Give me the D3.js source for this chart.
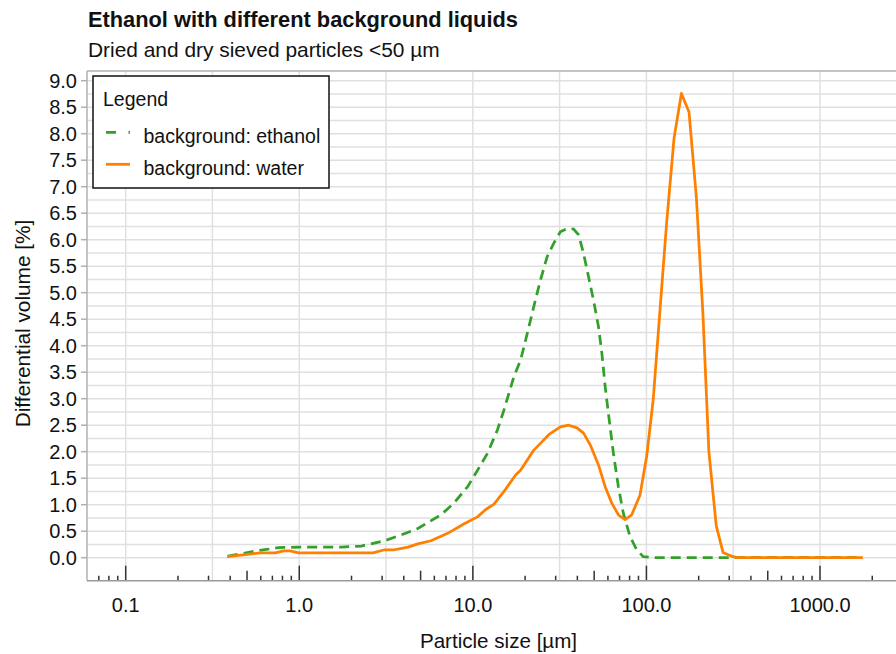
<!DOCTYPE html>
<html>
<head>
<meta charset="utf-8">
<script src="https://cdnjs.cloudflare.com/ajax/libs/d3/7.8.5/d3.min.js"></script>
<style>
  body { margin: 0; background: #fff; }
  svg { display: block; font-family: "Liberation Sans", Arial, sans-serif; }
</style>
</head>
<body>
<div id="chart"></div>
<script>
// particle size [µm] and differential volume [%]
var ethanolSize = [0.388, 0.571, 0.760, 1.0, 1.75, 2.28, 3.10, 3.87, 4.82, 6.56, 7.78, 9.33,
    10.64, 12.14, 13.85, 15.12, 17.25, 18.84, 20.58, 22.45, 24.53, 26.80, 29.24, 31.93,
    34.89, 38.07, 40.67, 43.43, 46.40, 49.56, 52.94, 55.37, 57.84, 60.41, 64.53, 68.93,
    73.62, 80.42, 87.87, 95.87, 109.6, 1764];
var ethanolVol = [0.03, 0.13, 0.19, 0.20, 0.20, 0.22, 0.32, 0.43, 0.55, 0.81, 1.03, 1.34,
    1.65, 1.97, 2.41, 2.79, 3.42, 3.73, 4.23, 4.74, 5.24, 5.68, 5.93, 6.15,
    6.21, 6.20, 6.09, 5.74, 5.30, 4.86, 4.36, 3.86, 3.23, 2.72, 1.97, 1.34,
    0.84, 0.40, 0.15, 0.02, 0.0, 0.0];

var waterSize = [0.384, 0.489, 0.596, 0.727, 0.812, 0.886, 0.989, 2.66, 3.10, 3.54, 4.23, 4.82,
    5.74, 7.16, 8.92, 10.64, 11.87, 13.24, 15.12, 17.64, 18.84, 21.50, 22.45, 25.08,
    27.37, 31.93, 35.64, 39.81, 43.43, 47.45, 52.94, 57.84, 63.18, 68.93, 75.30, 82.27,
    91.80, 100.3, 109.4, 119.5, 130.6, 144.3, 159.1, 175.9, 194.0, 211.6, 229.0, 252.6,
    276.3, 307.8, 334.5, 1764];
var waterVol = [0.02, 0.06, 0.09, 0.09, 0.13, 0.13, 0.09, 0.09, 0.15, 0.15, 0.20, 0.26,
    0.32, 0.46, 0.64, 0.77, 0.91, 1.01, 1.25, 1.56, 1.65, 1.94, 2.03, 2.19,
    2.32, 2.47, 2.50, 2.45, 2.35, 2.13, 1.75, 1.34, 1.03, 0.81, 0.72, 0.81,
    1.18, 1.91, 2.98, 4.64, 6.30, 7.92, 8.76, 8.41, 6.80, 4.60, 2.00, 0.60,
    0.10, 0.03, 0.0, 0.0];

var xMajor = [0.1, 1, 10, 100, 1000];
var xGrid = [0.1, 0.316, 1, 3.16, 10, 31.6, 100, 316, 1000];
var yTicks = d3.range(0, 9.01, 0.5);
var yGrid = d3.range(0, 9.01, 0.25);

var seriesNames = ["background: ethanol", "background: water"];
var seriesColors = ["#33a02c", "#ff7f00"];

var W = 896, H = 654;
// plot frame (note: "top" is reserved on window, so use pLeft/pTop...)
var pLeft = 87, pRight = 896, pTop = 71, pBottom = 580.7;

var svg = d3.select("#chart").append("svg")
    .attr("width", W).attr("height", H);

var x = d3.scaleLog().domain([0.1, 1000]).range([125.7, 820]);
var y = d3.scaleLinear().domain([0, 9]).range([557.7, 80.7]);

// grid
var grid = svg.append("g");
grid.selectAll("line.h").data(yGrid).enter().append("line")
    .attr("x1", pLeft).attr("x2", pRight)
    .attr("y1", function (d) { return y(d); })
    .attr("y2", function (d) { return y(d); })
    .attr("stroke", "#e0e0e0").attr("stroke-width", 1.5);
grid.selectAll("line.v").data(xGrid).enter().append("line")
    .attr("x1", function (d) { return x(d); })
    .attr("x2", function (d) { return x(d); })
    .attr("y1", pTop).attr("y2", pBottom)
    .attr("stroke", "#e0e0e0").attr("stroke-width", 1.5);

// frame (top + left)
svg.append("line").attr("x1", pLeft).attr("x2", pRight).attr("y1", pTop).attr("y2", pTop)
    .attr("stroke", "#b0b0b0").attr("stroke-width", 1.5);
svg.append("line").attr("x1", pLeft).attr("x2", pLeft).attr("y1", pTop).attr("y2", pBottom)
    .attr("stroke", "#b0b0b0").attr("stroke-width", 1.5);

// y ticks + labels
svg.selectAll("line.yt").data(yTicks).enter().append("line")
    .attr("x1", pLeft - 6).attr("x2", pLeft)
    .attr("y1", function (d) { return y(d); })
    .attr("y2", function (d) { return y(d); })
    .attr("stroke", "#b0b0b0").attr("stroke-width", 1.5);
svg.selectAll("text.yl").data(yTicks).enter().append("text")
    .attr("x", 77).attr("y", function (d) { return y(d); })
    .attr("dy", "0.36em")
    .attr("text-anchor", "end")
    .style("font-size", "20px").attr("fill", "#111")
    .text(function (d) { return d.toFixed(1); });

// x axis: log ticks drawn upward
var xMin = x.invert(pLeft), xMax = x.invert(pRight);
var minor = x.copy().domain([xMin, xMax]).ticks()
    .filter(function (d) { return x(d) > pLeft + 2 && x(d) < pRight - 2; });
svg.selectAll("line.xt").data(minor).enter().append("line")
    .attr("x1", function (d) { return x(d); })
    .attr("x2", function (d) { return x(d); })
    .attr("y1", pBottom)
    .attr("y2", function (d) {
        var m = Math.round(d / Math.pow(10, Math.floor(Math.log10(d) + 1e-9)));
        return pBottom - (m === 1 ? 15 : (m === 5 ? 10 : 5));
    })
    .attr("stroke", "#333").attr("stroke-width", 1.5);
svg.append("line").attr("x1", pLeft).attr("x2", pRight).attr("y1", pBottom).attr("y2", pBottom)
    .attr("stroke", "#999").attr("stroke-width", 1.5);
svg.selectAll("text.xl").data(xMajor).enter().append("text")
    .attr("x", function (d) { return x(d); }).attr("y", 611.5)
    .attr("text-anchor", "middle")
    .style("font-size", "20px").attr("fill", "#111")
    .text(function (d) { return d.toFixed(1); });

// axis titles
svg.append("text").attr("x", 498.5).attr("y", 648)
    .attr("text-anchor", "middle").style("font-size", "20.6px").attr("fill", "#111")
    .text("Particle size [µm]");
svg.append("text").attr("transform", "translate(30,323.5) rotate(-90)")
    .attr("text-anchor", "middle").style("font-size", "20.8px").attr("fill", "#111")
    .text("Differential volume [%]");

// title
svg.append("text").attr("x", 88).attr("y", 26.5)
    .style("font-size", "21.8px").style("font-weight", "bold").attr("fill", "#111")
    .text("Ethanol with different background liquids");
svg.append("text").attr("x", 88).attr("y", 56.5)
    .style("font-size", "20.9px").attr("fill", "#111")
    .text("Dried and dry sieved particles <50 µm");

// series
var line = d3.line()
    .x(function (d) { return x(d[0]); })
    .y(function (d) { return y(d[1]); });
svg.append("clipPath").attr("id", "plot")
    .append("rect").attr("x", pLeft).attr("y", pTop)
    .attr("width", pRight - pLeft).attr("height", pBottom - pTop);

svg.append("path")
    .datum(d3.zip(ethanolSize, ethanolVol))
    .attr("clip-path", "url(#plot)")
    .attr("d", line).attr("fill", "none")
    .attr("stroke", seriesColors[0]).attr("stroke-width", 2.75)
    .attr("stroke-dasharray", "10,6");
svg.append("path")
    .datum(d3.zip(waterSize, waterVol))
    .attr("clip-path", "url(#plot)")
    .attr("d", line).attr("fill", "none")
    .attr("stroke", seriesColors[1]).attr("stroke-width", 2.75)
    .attr("stroke-linejoin", "round");

// legend
var lg = svg.append("g");
lg.append("rect").attr("x", 93).attr("y", 76).attr("width", 236).attr("height", 112)
    .attr("fill", "#fff").attr("stroke", "#111").attr("stroke-width", 1.5);
lg.append("text").attr("x", 103).attr("y", 106)
    .style("font-size", "19.5px").attr("fill", "#111").text("Legend");
seriesNames.forEach(function (name, i) {
    var ly = 132.3 + i * 32;
    lg.append("line").attr("x1", 106).attr("x2", 130).attr("y1", ly).attr("y2", ly)
        .attr("stroke", seriesColors[i]).attr("stroke-width", 2.75)
        .attr("stroke-dasharray", i === 0 ? "10,12.5" : null);
    lg.append("text").attr("x", 143.5).attr("y", ly + 10.3)
        .style("font-size", "19.5px").attr("fill", "#111").text(name);
});
</script>
</body>
</html>
